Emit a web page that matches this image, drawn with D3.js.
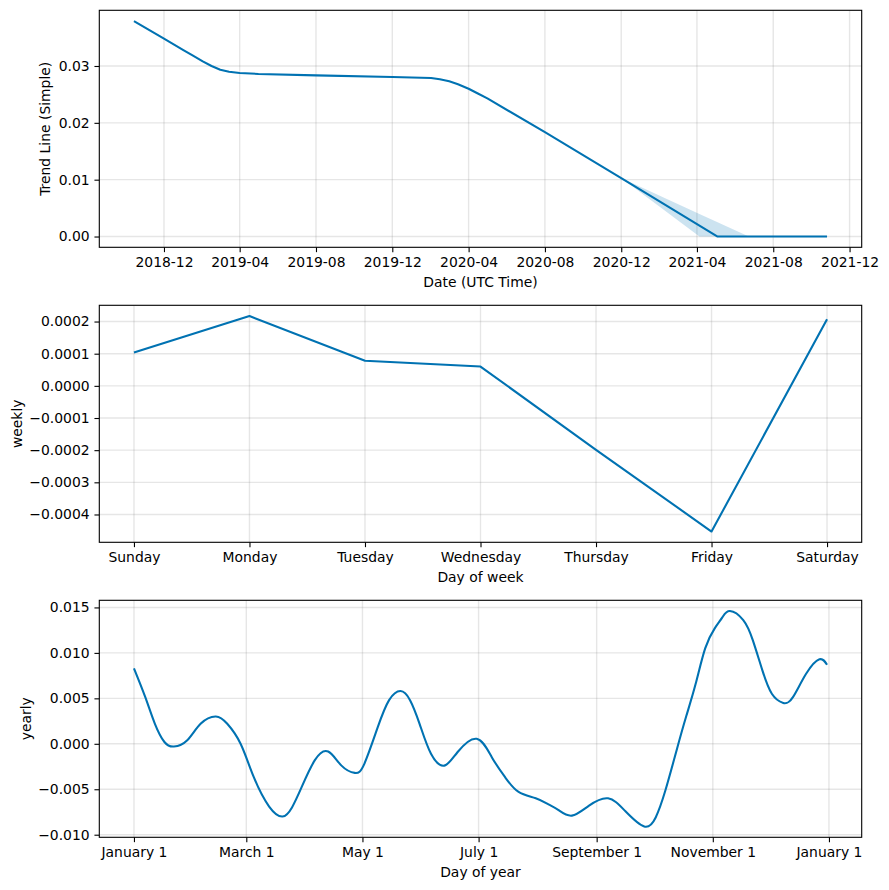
<!DOCTYPE html>
<html><head><meta charset="utf-8">
<script src="https://cdn.jsdelivr.net/npm/d3@7"></script>
<style>
body{margin:0;background:#fff}
text{font-family:"DejaVu Sans",sans-serif;fill:#000}
</style>
</head><body>
<svg id="chart" width="889" height="890"></svg>
<script>
// ---- Panel 1: trend ----
const trendDates = ["2018-10-14","2018-12-01","2019-01-01","2019-01-15","2019-02-01","2019-02-15","2019-03-01","2019-03-15","2019-04-01","2019-05-01","2019-08-01","2019-12-01","2020-02-01","2020-02-15","2020-03-01","2020-03-15","2020-04-01","2020-04-15","2020-05-01","2020-08-01","2020-12-01","2021-05-04","2021-10-26"];
const trendValues = [0.0379,0.0348,0.0328,0.0319,0.0308,0.0300,0.02935,0.0290,0.02877,0.0286,0.02835,0.02807,0.0279,0.02765,0.0273,0.0268,0.0260,0.0252,0.0243,0.01835,0.01028,0.0,0.0];
const bandDates = ["2020-12-01","2021-04-05","2021-05-04","2021-06-23","2021-10-26"];
const bandUpper = [0.01028,0.00398,0.00252,0.0,0.0];
const bandLower = [0.01028,0.0,0.0,0.0,0.0];
const trendTickLabels = ["2018-12","2019-04","2019-08","2019-12","2020-04","2020-08","2020-12","2021-04","2021-08","2021-12"];
const trendYTicks = [0.00,0.01,0.02,0.03];

// ---- Panel 2: weekly ----
const weekDays = ["Sunday","Monday","Tuesday","Wednesday","Thursday","Friday","Saturday"];
const weeklyValues = [0.000104,0.000217,0.000078,0.000060,-0.000199,-0.000453,0.000207];
const weeklyYTicks = [-0.0004,-0.0003,-0.0002,-0.0001,0.0,0.0001,0.0002];

// ---- Panel 3: yearly ----
const yearlyDays = [0,6,11,16,21,28,35,43,49,56,63,71,78,83,88,95,102,109,116,121,128,134,140,145,150,156,163,170,180,188,195,202,211,218,223,230,239,249,258,268,274,279,285,290,295,300,305,309,313,320,325,330,335,341,346,353,360,364];
const yearlyValues = [0.0083,0.0051,0.0022,0.0002,-0.0003,0.0004,0.0022,0.0030,0.0022,0.0,-0.0037,-0.0069,-0.0080,-0.0070,-0.0048,-0.0018,-0.00085,-0.0024,-0.0032,-0.0022,0.0018,0.0048,0.0058,0.0048,0.0022,-0.0011,-0.0024,-0.0009,0.00055,-0.0015,-0.0037,-0.0053,-0.0060,-0.0067,-0.0073,-0.0079,-0.0068,-0.0060,-0.0074,-0.0091,-0.0081,-0.0052,-0.0007,0.0030,0.0066,0.0105,0.0127,0.0139,0.0146,0.0136,0.0114,0.0081,0.0055,0.0045,0.0051,0.0077,0.0093,0.0087];
const yearlyTickLabels = ["January 1","March 1","May 1","July 1","September 1","November 1","January 1"];
const yearlyTickDates = ["2017-01-01","2017-03-01","2017-05-01","2017-07-01","2017-09-01","2017-11-01","2018-01-01"];
const yearlyYTicks = [-0.010,-0.005,0.000,0.005,0.010,0.015];

const LINE = "#0072B2";
const FS = 13.9;
const svg = d3.select("#chart");
const left = 99.3, right = 861.7, W = right - left, H = 237;
const tops = [10.3, 305.3, 600.3];
const parse = d3.timeParse("%Y-%m-%d");
const parseYM = d3.timeParse("%Y-%m");

function pad(ext){ const a = +ext[0], b = +ext[1], r = b - a; return [a - 0.05*r, b + 0.05*r]; }

function panel(i, x, y, xTicks, xFmt, yTicks, yFmt, xLabel, yLabel, yLabelX){
  const g = svg.append("g").attr("transform", `translate(${left},${tops[i]})`);
  const grid = g.append("g").attr("stroke","#808080").attr("stroke-opacity",0.2).attr("stroke-width",1.39);
  xTicks.forEach(t => grid.append("line").attr("x1",x(t)).attr("x2",x(t)).attr("y1",0).attr("y2",H));
  yTicks.forEach(t => grid.append("line").attr("y1",y(t)).attr("y2",y(t)).attr("x1",0).attr("x2",W));
  const marks = g.append("g");
  const ax = g.append("g").attr("transform",`translate(0,${H})`)
    .call(d3.axisBottom(x).tickValues(xTicks).tickFormat(xFmt).tickSize(4.86).tickPadding(4.86));
  const ay = g.append("g")
    .call(d3.axisLeft(y).tickValues(yTicks).tickFormat(yFmt).tickSize(4.86).tickPadding(4.86));
  [ax, ay].forEach(a => {
    a.select(".domain").remove();
    a.selectAll(".tick line").attr("stroke","#000").attr("stroke-width",1.1);
    a.selectAll("text").attr("font-size",FS).attr("font-family","DejaVu Sans").attr("fill","#000");
  });
  g.append("rect").attr("x",0).attr("y",0).attr("width",W).attr("height",H)
    .attr("fill","none").attr("stroke","#000").attr("stroke-width",1.1);
  g.append("text").attr("x",W/2).attr("y",H+35).attr("text-anchor","middle")
    .attr("dominant-baseline","central").attr("font-size",FS).text(xLabel);
  svg.append("text").attr("transform",`translate(${yLabelX},${tops[i]+H/2}) rotate(-90)`)
    .attr("text-anchor","middle").attr("dominant-baseline","central").attr("font-size",FS).text(yLabel);
  return marks;
}

// Panel 1
{
  const dates = trendDates.map(parse);
  const bd = bandDates.map(parse);
  const x = d3.scaleTime().domain(pad(d3.extent(dates))).range([0,W]);
  const y = d3.scaleLinear().domain(pad([d3.min(bandLower.concat(trendValues)), d3.max(bandUpper.concat(trendValues))])).range([H,0]);
  const ticks = trendTickLabels.map(parseYM);
  const m = panel(0, x, y, ticks, d3.timeFormat("%Y-%m"), trendYTicks, d3.format(".2f"),
    "Date (UTC Time)", "Trend Line (Simple)", 44.5);
  m.append("path").datum(bd.map((d,k)=>({d, lo:bandLower[k], hi:bandUpper[k]})))
    .attr("fill",LINE).attr("fill-opacity",0.2)
    .attr("d", d3.area().x(p=>x(p.d)).y0(p=>y(p.lo)).y1(p=>y(p.hi)));
  m.append("path").datum(dates.map((d,k)=>[d,trendValues[k]]))
    .attr("fill","none").attr("stroke",LINE).attr("stroke-width",2.08).attr("stroke-linejoin","round")
    .attr("d", d3.line().x(p=>x(p[0])).y(p=>y(p[1])));
}

// Panel 2
{
  const idx = weekDays.map((d,k)=>k);
  const x = d3.scaleLinear().domain(pad([0,weekDays.length-1])).range([0,W]);
  const y = d3.scaleLinear().domain(pad(d3.extent(weeklyValues))).range([H,0]);
  const m = panel(1, x, y, idx, k=>weekDays[k], weeklyYTicks, d3.format(".4f"),
    "Day of week", "weekly", 16.5);
  m.append("path").datum(idx.map(k=>[k,weeklyValues[k]]))
    .attr("fill","none").attr("stroke",LINE).attr("stroke-width",2.08).attr("stroke-linejoin","round")
    .attr("d", d3.line().x(p=>x(p[0])).y(p=>y(p[1])));
}

// Panel 3
{
  const base = parse("2017-01-01");
  const dates = yearlyDays.map(d=>d3.timeDay.offset(base,d));
  const x = d3.scaleTime().domain(pad(d3.extent(dates))).range([0,W]);
  const y = d3.scaleLinear().domain(pad(d3.extent(yearlyValues))).range([H,0]);
  const ticks = yearlyTickDates.map(parse);
  const m = panel(2, x, y, ticks, (d,k)=>yearlyTickLabels[k], yearlyYTicks, d3.format(".3f"),
    "Day of year", "yearly", 25.5);
  m.append("path").datum(dates.map((d,k)=>[d,yearlyValues[k]]))
    .attr("fill","none").attr("stroke",LINE).attr("stroke-width",2.08).attr("stroke-linejoin","round")
    .attr("d", d3.line().curve(d3.curveNatural).x(p=>x(p[0])).y(p=>y(p[1])));
}
</script>
</body></html>
